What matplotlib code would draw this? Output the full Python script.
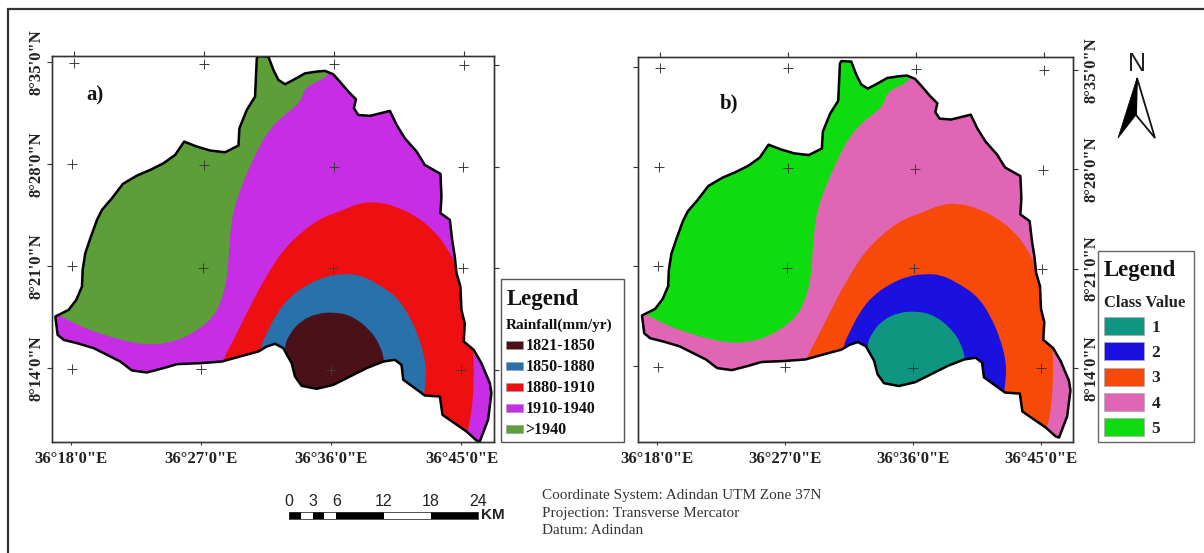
import matplotlib
matplotlib.use('Agg')
import matplotlib.pyplot as plt
from matplotlib.patches import Polygon, Rectangle, PathPatch
from matplotlib.path import Path

plt.rcParams['font.family'] = 'Liberation Serif'

W, H = 1204, 553

# all map outlines below are in arc minutes: longitude past 36 deg E, latitude past 8 deg N
basin_lon = [16.94, 17.86, 18.39, 18.78, 18.83, 19.01, 19.40, 19.82, 20.16, 20.85, 21.61, 22.58, 23.50, 24.42,
             25.22, 25.84, 26.72, 27.64, 28.67, 29.59, 29.66, 30.17, 30.74, 30.86, 30.97, 31.66, 32.01, 32.35,
             32.81, 33.39, 34.19, 35.00, 35.57, 36.14, 36.60, 37.18, 37.71, 37.57, 37.87, 38.68, 40.06, 40.52,
             41.09, 41.90, 42.47, 43.55, 43.62, 43.55, 44.20, 44.36, 44.54, 44.66, 44.93, 45.00, 45.23, 45.16,
             45.85, 46.38, 46.96, 47.07, 46.84, 46.27, 46.04, 45.35, 43.69, 43.51, 42.47, 41.78, 40.98, 40.86,
             40.40, 39.60, 38.45, 37.07, 36.15, 35.00, 33.96, 33.50, 33.27, 32.69, 32.12, 31.54, 30.97, 29.70,
             28.44, 26.95, 25.34, 24.42, 23.27, 22.23, 21.43, 20.51, 19.59, 18.44, 17.52, 17.10]
basin_lat = [17.54, 18.00, 18.69, 19.60, 20.75, 21.89, 23.03, 24.18, 24.86, 25.66, 26.65, 27.22, 27.61, 28.07,
             28.64, 29.55, 29.21, 28.94, 28.82, 29.28, 30.47, 31.73, 32.64, 35.27, 35.43, 35.39, 34.47, 33.79,
             33.49, 33.79, 34.24, 34.36, 34.41, 34.18, 33.67, 32.99, 32.46, 31.84, 31.38, 31.32, 31.66, 30.70,
             29.78, 28.87, 27.95, 27.34, 25.78, 24.64, 24.18, 22.80, 21.66, 20.52, 19.60, 18.00, 17.08, 15.83,
             15.25, 14.34, 12.97, 12.28, 10.45, 8.96, 9.03, 9.65, 10.79, 12.05, 12.12, 12.62, 13.20, 14.22,
             14.57, 14.45, 14.00, 13.31, 12.85, 12.58, 12.78, 13.42, 14.34, 15.37, 15.67, 15.48, 15.14, 14.80,
             14.45, 14.34, 14.27, 14.00, 13.70, 13.84, 14.45, 14.91, 15.37, 15.71, 15.94, 16.28]

zone5_lon = [35.92, 34.19, 33.96, 33.39, 32.47, 31.55, 30.86, 30.28, 29.71, 29.25, 29.02, 28.90, 28.79, 28.44,
             27.87, 26.95, 25.80, 24.65, 23.27, 21.89, 20.28, 18.67, 17.40, 16.0, 16.0, 36.5]
zone5_lat = [34.02, 33.33, 32.41, 31.84, 31.16, 30.13, 28.87, 27.61, 26.24, 24.86, 23.26, 21.43, 20.06, 18.69,
             17.54, 16.74, 16.06, 15.71, 15.60, 15.83, 16.28, 16.86, 17.54, 18.2, 36.0, 36.0]

zone3_lon = [28.44, 29.25, 30.05, 30.86, 31.78, 32.70, 33.85, 35.23, 36.61, 37.87, 39.14, 40.52, 41.90, 43.05,
             43.97, 44.66, 45.35, 45.85, 45.85, 45.69, 45.41, 45.0, 28.0]
zone3_lat = [14.45, 15.94, 17.54, 19.14, 20.75, 22.12, 23.26, 24.29, 24.75, 25.32, 25.44, 25.09, 24.41, 23.49,
             22.35, 20.97, 18.92, 15.25, 12.74, 10.91, 9.53, 8.5, 12.0]

zone2_lon = [30.97, 31.55, 32.24, 33.16, 34.31, 35.57, 36.84, 37.99, 39.14, 40.52, 41.44, 42.13, 42.54, 42.54,
             42.40, 42.40, 31.0]
zone2_lat = [15.14, 16.40, 17.77, 18.92, 19.72, 20.29, 20.47, 20.40, 19.83, 18.92, 17.54, 15.94, 14.34, 13.20,
             12.17, 11.0, 11.0]

zone1_lon = [32.69, 33.16, 33.85, 35.00, 36.38, 37.53, 38.68, 39.37, 39.71, 39.71, 33.0]
zone1_lat = [15.37, 16.40, 17.20, 17.77, 17.84, 17.54, 16.63, 15.60, 14.45, 12.0, 12.0]

# graticule crosses, the grid is slightly turned against the map frame
cross_lon = [18.21, 27.22, 36.21, 45.21, 18.11, 27.18, 36.17, 45.14,
             18.07, 27.13, 36.10, 45.09, 18.07, 27.02, 36.01, 45.00]
cross_lat = [34.95, 34.91, 34.86, 34.82, 27.98, 27.93, 27.84, 27.79,
             21.00, 20.90, 20.86, 20.84, 13.95, 13.93, 13.88, 13.84]

lon_ticks = [18, 27, 36, 45]
lat_ticks = [14, 21, 28, 35]
lon_labels = ['36°18\'0"E', '36°27\'0"E', '36°36\'0"E', '36°45\'0"E']
lat_labels = ['8°14\'0"N', '8°21\'0"N', '8°28\'0"N', '8°35\'0"N']
top_ticks = [18.21, 27.22, 36.21, 45.21]
right_ticks = [13.85, 20.84, 27.81, 34.82]

rain_title = 'Rainfall(mm/yr)'
rain_classes = ['1821-1850', '1850-1880', '1880-1910', '1910-1940', '>1940']
rain_colors = ['#4a1218', '#2871ab', '#ee1010', '#c82de6', '#5c9e38']
class_title = 'Class Value'
class_values = ['1', '2', '3', '4', '5']
class_colors = ['#109680', '#1a10e0', '#f74a08', '#e065b5', '#0edc0e']

scale_edges = [0, 1.5, 3, 4.5, 6, 12, 18, 24]
scale_ticks = [0, 3, 6, 12, 18, 24]
notes = ['Coordinate System: Adindan UTM Zone 37N', 'Projection: Transverse Mercator', 'Datum: Adindan']


def px_axes(fig, left, top, right, bottom):
    return fig.add_axes([left / W, 1 - bottom / H, (right - left) / W, (bottom - top) / H])


def rounded_path(lons, lats):
    # read points act as control points so the class edges come out round, not faceted
    pts = list(zip(lons, lats))
    n = len(pts)
    mid = lambda a, b: ((a[0] + b[0]) / 2, (a[1] + b[1]) / 2)
    verts = [mid(pts[-1], pts[0])]
    codes = [Path.MOVETO]
    for i in range(n):
        verts += [pts[i], mid(pts[i], pts[(i + 1) % n])]
        codes += [Path.CURVE3, Path.CURVE3]
    return Path(verts, codes)


def draw_map(ax, colors, xlim, ylim, label_left):
    ax.set_xlim(xlim)
    ax.set_ylim(ylim)
    outline = Polygon(list(zip(basin_lon, basin_lat)), closed=True, fc=colors[3], ec='none', zorder=1)
    ax.add_patch(outline)
    zones = [(zone5_lon, zone5_lat, colors[4]), (zone3_lon, zone3_lat, colors[2]),
             (zone2_lon, zone2_lat, colors[1]), (zone1_lon, zone1_lat, colors[0])]
    for lons, lats, c in zones:
        p = PathPatch(rounded_path(lons, lats), fc=c, ec='none', zorder=2)
        ax.add_patch(p)
        p.set_clip_path(outline)
    ax.add_patch(Polygon(list(zip(basin_lon, basin_lat)), closed=True, fill=False, ec='black', lw=1.8,
                         joinstyle='round', zorder=3))
    ax.plot(cross_lon, cross_lat, '+', ms=7.5, mew=0.7, color='#3a3a3a', zorder=4)

    top = ax.twiny()
    top.set_xlim(xlim)
    top.set_xticks(top_ticks)
    top.set_xticklabels([])
    right = ax.twinx()
    right.set_ylim(ylim)
    right.set_yticks(right_ticks)

    ax.set_xticks(lon_ticks)
    ax.set_xticklabels(lon_labels, fontsize=12, fontweight='bold', color='#222222')
    ax.set_yticks(lat_ticks)
    if label_left:
        ax.set_yticklabels(lat_labels, fontsize=12, fontweight='bold', color='#222222', rotation=90, va='center')
        right.set_yticklabels([])
    else:
        ax.set_yticklabels([])
        right.set_yticklabels(lat_labels, fontsize=12, fontweight='bold', color='#222222', rotation=90, va='center')
    ax.tick_params(axis='x', length=2, width=0.8, color='#333333', pad=4.5)
    ax.tick_params(axis='y', length=3.6, width=0.8, color='#333333', pad=1.5)
    top.tick_params(axis='x', length=3.6, width=0.8, color='#333333')
    right.tick_params(axis='y', length=3.6, width=0.8, color='#333333', pad=4)
    for a in (ax, top, right):
        for s in a.spines.values():
            s.set_color('#333333')
            s.set_linewidth(0.9)


fig = plt.figure(figsize=(W / 100, H / 100), dpi=100, facecolor='white')

ax_a = px_axes(fig, 52, 56, 494, 441.5)
draw_map(ax_a, rain_colors, (16.71, 47.25), (8.96, 35.43), True)
ax_b = px_axes(fig, 638, 56.5, 1073, 441.5)
draw_map(ax_b, class_colors, (16.66, 47.25), (8.68, 35.75), False)

# page overlay in picture pixels: frame, legends, north arrow, notes
page = fig.add_axes([0, 0, 1, 1], zorder=10)
page.set_xlim(0, W)
page.set_ylim(H, 0)
page.axis('off')
page.patch.set_alpha(0)

page.plot([8, 8, W], [H, 9, 9], color='#333333', lw=1.6, solid_joinstyle='miter')

page.text(86, 100, 'a)', fontsize=15, fontweight='bold', color='#111111')
page.text(720, 108, 'b)', fontsize=15, fontweight='bold', color='#111111')

# legend a
page.add_patch(Rectangle((501, 279), 123, 163, fc='white', ec='#555555', lw=1))
page.text(507, 305, 'Legend', fontsize=16.5, fontweight='bold', color='#111111')
page.text(506, 329, rain_title, fontsize=11, fontweight='bold', color='#111111')
for i, (name, c) in enumerate(zip(rain_classes, rain_colors)):
    yc = 345 + 21 * i
    page.add_patch(Rectangle((505.5, yc - 4), 17, 8, fc=c, ec='#999999', lw=0.4))
    page.text(525.5, yc + 5, name, fontsize=11.5, fontweight='bold', color='#111111')

# legend b
page.add_patch(Rectangle((1098, 251), 96, 191, fc='white', ec='#666666', lw=1))
page.text(1104, 276, 'Legend', fontsize=16.5, fontweight='bold', color='#111111')
page.text(1104, 307, class_title, fontsize=12, fontweight='bold', color='#222222')
for i, (name, c) in enumerate(zip(class_values, class_colors)):
    yt = 317 + 25.25 * i
    page.add_patch(Rectangle((1104, yt), 40, 18, fc=c, ec='#aaaaaa', lw=0.5))
    page.text(1151.5, yt + 15, name, fontsize=12.5, fontweight='bold', color='#222222')

# north arrow
page.text(1137, 71, 'N', fontsize=18, family='Liberation Sans', ha='center', va='baseline', color='#222222')
page.add_patch(Polygon([(1137, 78), (1155, 138), (1136, 115)], closed=True, fc='white', ec='#111111', lw=1.3,
                       joinstyle='miter'))
page.add_patch(Polygon([(1137, 78), (1118, 138), (1136, 115)], closed=True, fc='#000000', ec='#000000', lw=0.5))

# scale bar, its own little km axis
sb = px_axes(fig, 289, 511.5, 478, 519)
sb.set_zorder(11)
sb.set_xlim(scale_edges[0], scale_edges[-1])
sb.set_ylim(0, 1)
for i in range(len(scale_edges) - 1):
    sb.barh(0.5, scale_edges[i + 1] - scale_edges[i], left=scale_edges[i], height=1,
            color='black' if i % 2 == 0 else 'white', align='center')
sb.set_yticks([])
sb.xaxis.tick_top()
sb.set_xticks(scale_ticks)
sb.set_xticklabels([str(t) for t in scale_ticks], fontsize=11.5, family='Liberation Sans', color='#222222')
sb.tick_params(axis='x', length=0, pad=1.5)
for s in sb.spines.values():
    s.set_color('#333333')
    s.set_linewidth(0.6)
page.text(481, 519, 'KM', fontsize=11, fontweight='bold', family='Liberation Sans', color='#222222')

for i, line in enumerate(notes):
    page.text(542, 499.5 + 17.5 * i, line, fontsize=11, color='#333333')

fig.savefig('out.png', dpi=100)
